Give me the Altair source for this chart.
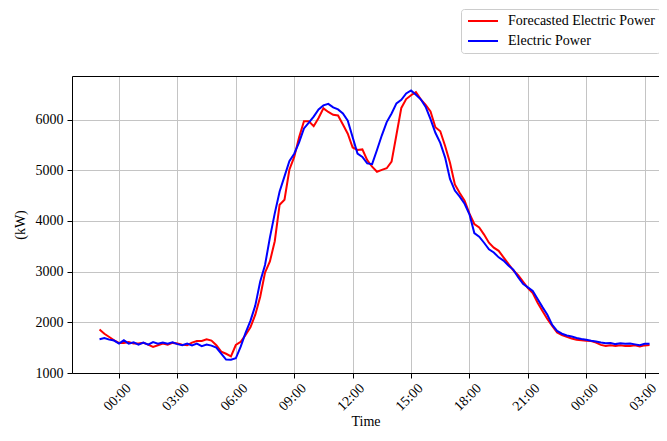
import altair as alt
import pandas as pd

times = pd.date_range("2023-01-01 23:00", periods=114, freq="15min").strftime("%Y-%m-%dT%H:%M:%S").tolist()

forecast = [
    1858, 1774, 1710, 1645, 1594, 1594, 1613, 1580, 1580, 1594, 1560, 1516,
    1548, 1580, 1560, 1594, 1580, 1560, 1548, 1600, 1632, 1632, 1665, 1640,
    1548, 1420, 1380, 1330, 1552, 1616, 1750, 1900, 2150, 2500, 2980, 3200,
    3600, 4320, 4420, 5010, 5263, 5650, 5967, 5967, 5870, 6030, 6222, 6150,
    6094, 6080, 5902, 5720, 5450, 5400, 5411, 5200, 5070, 4970, 5008, 5040,
    5170, 5700, 6230, 6405, 6480, 6540, 6400, 6288, 6160, 5850, 5770, 5480,
    5150, 4720, 4550, 4400, 4144, 3940, 3870, 3731, 3570, 3474, 3410, 3282,
    3154, 3026, 2929, 2801, 2673, 2577, 2385, 2224, 2064, 1930, 1800, 1750,
    1712, 1680, 1655, 1645, 1635, 1630, 1600, 1555, 1535, 1545, 1535, 1545,
    1535, 1535, 1545, 1525, 1545, 1550,
]

actual = [
    1665, 1690, 1658, 1640, 1580, 1645, 1580, 1606, 1560, 1600, 1560, 1610,
    1580, 1600, 1580, 1606, 1570, 1548, 1580, 1545, 1580, 1530, 1560, 1540,
    1500, 1380, 1265, 1260, 1290, 1520, 1790, 2030, 2330, 2800, 3130, 3670,
    4150, 4580, 4880, 5180, 5327, 5550, 5826, 5940, 6060, 6200, 6280, 6310,
    6240, 6200, 6120, 5980, 5650, 5330, 5264, 5136, 5120, 5400, 5690, 5950,
    6120, 6320, 6390, 6515, 6576, 6490, 6400, 6250, 6010, 5740, 5540, 5250,
    4830, 4600, 4480, 4340, 4130, 3760, 3690, 3570, 3442, 3378, 3282, 3218,
    3122, 3040, 2890, 2760, 2690, 2620, 2460, 2300, 2150, 1950, 1830, 1775,
    1740, 1720, 1690, 1670, 1655, 1635, 1620, 1600, 1585, 1590, 1570, 1585,
    1575, 1580, 1565, 1550, 1575, 1575,
]

series_names = ["Forecasted Electric Power", "Electric Power"]
series_colors = ["#ff0000", "#0000ff"]
Y_MIN, Y_MAX = 1000, 6860
y_ticks = [1000, 2000, 3000, 4000, 5000, 6000, Y_MAX]  # top value draws the upper frame line

df = pd.concat([
    pd.DataFrame({"time": times, "value": forecast, "series": series_names[0], "ord": 0}),
    pd.DataFrame({"time": times, "value": actual, "series": series_names[1], "ord": 1}),
])

FONT = "Liberation Serif"
W, H = 587, 297

x_enc = alt.X(
    "time:T",
    title="Time",
    scale=alt.Scale(
        domain=[
            alt.DateTime(year=2023, month=1, date=1, hours=21, minutes=35, seconds=10),
            alt.DateTime(year=2023, month=1, date=3, hours=3, minutes=44, seconds=5),
        ]
    ),
    axis=alt.Axis(
        format="%H:%M",
        tickCount=10,
        labelAngle=-45,
        labelAlign="center",
        labelBaseline="middle",
        labelPadding=19,
        labelOffset=-2,
        labelOverlap=False,
        titlePadding=1,
    ),
)
y_enc = alt.Y(
    "value:Q",
    title="(kW)",
    scale=alt.Scale(domain=[Y_MIN, Y_MAX], nice=False, zero=False),
    axis=alt.Axis(
        values=y_ticks,
        labelExpr=f"datum.value >= {Y_MAX} ? '' : format(datum.value, 'd')",
        labelPadding=4,
        titlePadding=8,
        gridColor={"condition": {"test": f"datum.value >= {Y_MAX}", "value": "black"}, "value": "#c4c4c4"},
        tickOpacity={"condition": {"test": f"datum.value >= {Y_MAX}", "value": 0}, "value": 1},
    ),
)
color_enc = alt.Color(
    "series:N",
    scale=alt.Scale(domain=series_names, range=series_colors),
    legend=alt.Legend(
        title=None,
        orient="none",
        legendX=389,
        legendY=-67,
        symbolType="M-1,0H5",
        symbolSize=100,
        symbolStrokeWidth=2,
        labelFont=FONT,
        labelFontSize=14,
        labelColor="black",
        labelOffset=28,
        labelLimit=400,
        padding=5,
        rowPadding=6,
        strokeColor="#cccccc",
        fillColor="white",
        cornerRadius=3,
    ),
)

chart = (
    alt.Chart(df)
    .mark_line(strokeWidth=2)
    .encode(x=x_enc, y=y_enc, color=color_enc, order=alt.Order("ord:Q"))
    .properties(
        width=W,
        height=H,
        autosize=alt.AutoSizeParams(type="none"),
        padding={"left": 64, "top": 68, "right": 0, "bottom": 55},
    )
    .configure_view(strokeWidth=0)
    .configure_legend(labelFont=FONT, labelFontSize=14)
    .configure_axis(
        labelFont=FONT,
        labelFontSize=14,
        labelColor="black",
        titleFont=FONT,
        titleFontSize=14,
        titleFontWeight="normal",
        titleColor="black",
        domainColor="black",
        tickColor="black",
        tickSize=5,
        gridColor="#c4c4c4",
    )
)

chart.save("out.html", embed_options={"renderer": "svg", "actions": False})
